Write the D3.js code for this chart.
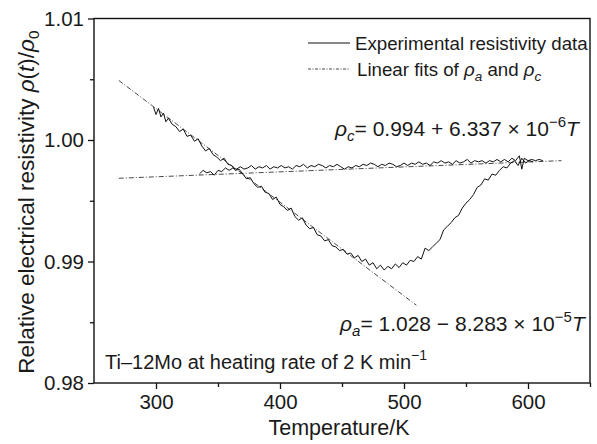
<!DOCTYPE html>
<html>
<head>
  <title>Relative electrical resistivity of Ti-12Mo</title>
  <script src="https://d3js.org/d3.v7.min.js"></script>
  <style>
    body { margin: 0; background: #fff; }
    text { font-family: "Liberation Sans", Arial, Helvetica, sans-serif; fill: #1a1a1a; }
  </style>
</head>
<body>

<div id="chart"></div>

<script>
// Heating branch: temperature (K) and relative resistivity
const heatT = [298, 300, 302, 304, 306, 308, 310, 313, 316, 319, 322, 325, 328, 331, 334, 337, 340, 343, 346, 349,
  352, 355, 358, 361, 364, 367, 370, 373, 376, 379, 382, 385, 388, 391, 394, 397, 400, 403, 406, 409,
  412, 415, 418, 421, 424, 427, 430, 433, 436, 439, 442, 445, 448, 451, 454, 457, 460, 463, 466, 469,
  472, 475, 478, 481, 484, 487, 490, 493, 496, 499, 502, 505, 508, 511, 514, 517, 520, 523, 526, 529,
  532, 535, 538, 541, 544, 547, 550, 553, 556, 559, 562, 565, 568, 571, 574, 577, 580, 583, 586, 589,
  592, 595, 598, 601, 604];
const heatRho = [1.0027, 1.0021, 1.0026, 1.0019, 1.0022, 1.0015, 1.0018, 1.0013, 1.0011, 1.0007, 1.0009, 1.0003, 1.0004, 0.9999, 1.0001, 0.9995, 0.9991, 0.9993, 0.9988, 0.9986,
  0.9983, 0.9985, 0.9980, 0.9979, 0.9975, 0.9976, 0.9972, 0.9968, 0.9969, 0.9964, 0.9961, 0.9962, 0.9957, 0.9956, 0.9951, 0.9953, 0.9947, 0.9945, 0.9942, 0.9944,
  0.9937, 0.9934, 0.9936, 0.9930, 0.9927, 0.9928, 0.9922, 0.9921, 0.9917, 0.9918, 0.9913, 0.9912, 0.9909, 0.9910, 0.9906, 0.9907, 0.9903, 0.9905, 0.9900, 0.9902,
  0.9897, 0.9899, 0.9894, 0.9897, 0.9893, 0.9896, 0.9894, 0.9898, 0.9895, 0.9899, 0.9897, 0.9901, 0.9900, 0.9904, 0.9902, 0.9911, 0.9909, 0.9912, 0.9915, 0.9918,
  0.9926, 0.9929, 0.9932, 0.9936, 0.9938, 0.9944, 0.9948, 0.9951, 0.9955, 0.9961, 0.9963, 0.9968, 0.9967, 0.9972, 0.9971, 0.9975, 0.9978, 0.9977, 0.9981, 0.9983,
  0.9979, 0.9985, 0.9981, 0.9983, 0.9982];

// Flat branch
const flatT = [335, 338, 341, 344, 347, 350, 353, 356, 359, 362, 365, 368, 371, 374, 377, 380, 383, 386, 389, 392,
  395, 398, 401, 404, 407, 410, 413, 416, 419, 422, 425, 428, 431, 434, 437, 440, 443, 446, 449, 452,
  455, 458, 461, 464, 467, 470, 473, 476, 479, 482, 485, 488, 491, 494, 497, 500, 503, 506, 509, 512,
  515, 518, 521, 524, 527, 530, 533, 536, 539, 542, 545, 548, 551, 554, 557, 560, 563, 566, 569, 572,
  575, 578, 581, 584, 587, 590, 593, 595, 597, 600, 603, 606, 609, 612];
const flatRho = [0.9972, 0.9975, 0.9973, 0.9974, 0.9971, 0.9975, 0.9974, 0.9977, 0.9975, 0.9977, 0.9976, 0.9978, 0.9976, 0.9977, 0.9979, 0.9976, 0.9978, 0.9977, 0.9979, 0.9976,
  0.9978, 0.9977, 0.9979, 0.9977, 0.9978, 0.9976, 0.9979, 0.9978, 0.9980, 0.9977, 0.9979, 0.9978, 0.9980, 0.9979, 0.9977, 0.9979, 0.9978, 0.9980, 0.9978, 0.9976,
  0.9978, 0.9977, 0.9979, 0.9978, 0.9980, 0.9979, 0.9981, 0.9980, 0.9978, 0.9980, 0.9979, 0.9981, 0.9980, 0.9978, 0.9979, 0.9981, 0.9979, 0.9981, 0.9980, 0.9982,
  0.9980, 0.9981, 0.9979, 0.9982, 0.9981, 0.9983, 0.9981, 0.9982, 0.9980, 0.9983, 0.9981, 0.9982, 0.9984, 0.9981, 0.9983, 0.9982, 0.9983, 0.9981, 0.9983, 0.9982,
  0.9984, 0.9982, 0.9984, 0.9982, 0.9985, 0.9983, 0.9987, 0.9976, 0.9985, 0.9983, 0.9984, 0.9983, 0.9984, 0.9983];

// Linear fits (end points)
const fitAT = [270, 510];
const fitARho = [1.0049, 0.9864];
const fitCT = [270, 627];
const fitCRho = [0.99685, 0.9983];

// Ticks
const xMajor = [300, 400, 500, 600];
const xMinor = [350, 450, 550, 650];
const yMajor = [0.98, 0.99, 1.00, 1.01];
const yMinor = [0.985, 0.995, 1.005];

const W = 597, H = 444;
const margin = { top: 18.5, right: 7, bottom: 61, left: 94 };
const width = W - margin.left - margin.right;
const height = H - margin.top - margin.bottom;

const svg = d3.select("#chart")
  .append("svg")
  .attr("width", W)
  .attr("height", H);

const g = svg.append("g")
  .attr("transform", `translate(${margin.left},${margin.top})`);

const x = d3.scaleLinear().domain([250, 650]).range([0, width]);
const y = d3.scaleLinear().domain([0.98, 1.01]).range([height, 0]);

// frame
g.append("rect")
  .attr("width", width)
  .attr("height", height)
  .attr("fill", "none")
  .attr("stroke", "#111")
  .attr("stroke-width", 1.4);

// axes
const styleAxis = sel => {
  sel.select(".domain").remove();
  sel.selectAll("line").attr("stroke", "#111").attr("stroke-width", 1.3);
  sel.selectAll("text").attr("font-size", 20.5).attr("fill", "#1a1a1a")
    .style("font-family", '"Liberation Sans", Arial, sans-serif');
};

g.append("g")
  .attr("transform", `translate(0,${height})`)
  .call(d3.axisBottom(x).tickValues(xMajor).tickSize(6).tickPadding(5).tickFormat(d3.format("d")))
  .call(styleAxis);
g.append("g")
  .attr("transform", `translate(0,${height})`)
  .call(d3.axisBottom(x).tickValues(xMinor).tickSize(4).tickFormat(""))
  .call(styleAxis);
g.append("g")
  .call(d3.axisLeft(y).tickValues(yMajor).tickSize(6).tickPadding(4).tickFormat(d3.format(".2f")))
  .call(styleAxis);
g.append("g")
  .call(d3.axisLeft(y).tickValues(yMinor).tickSize(4).tickFormat(""))
  .call(styleAxis);

// fit lines
const fitLine = d3.line().x(d => x(d[0])).y(d => y(d[1]));
[[fitAT, fitARho], [fitCT, fitCRho]].forEach(([ts, rs]) => {
  g.append("path")
    .datum(ts.map((t, i) => [t, rs[i]]))
    .attr("fill", "none")
    .attr("stroke", "#333")
    .attr("stroke-width", 0.9)
    .attr("stroke-dasharray", "5,2,1,2")
    .attr("d", fitLine);
});

// experimental data
[[heatT, heatRho], [flatT, flatRho]].forEach(([ts, rs]) => {
  g.append("path")
    .datum(ts.map((t, i) => [t, rs[i]]))
    .attr("fill", "none")
    .attr("stroke", "#111")
    .attr("stroke-width", 1)
    .attr("stroke-linejoin", "round")
    .attr("d", fitLine);
});

// legend
svg.append("line").attr("x1", 308).attr("x2", 350).attr("y1", 43).attr("y2", 43)
  .attr("stroke", "#111").attr("stroke-width", 1);
svg.append("text").attr("x", 355).attr("y", 50).attr("font-size", 18.7)
  .text("Experimental resistivity data");
svg.append("line").attr("x1", 308).attr("x2", 350).attr("y1", 69).attr("y2", 69)
  .attr("stroke", "#333").attr("stroke-width", 0.9).attr("stroke-dasharray", "3,1.5,1,1.5");
const leg2 = svg.append("text").attr("x", 357).attr("y", 76).attr("font-size", 18.7);
leg2.append("tspan").text("Linear fits of ");
leg2.append("tspan").attr("font-style", "italic").text("ρ");
leg2.append("tspan").attr("font-style", "italic").attr("font-size", 13.5).attr("dy", 5).text("a");
leg2.append("tspan").attr("dy", -5).text(" and ");
leg2.append("tspan").attr("font-style", "italic").text("ρ");
leg2.append("tspan").attr("font-style", "italic").attr("font-size", 13.5).attr("dy", 5).text("c");

// equations
function equation(xp, yp, sub, body, exp) {
  const t = svg.append("text").attr("x", xp).attr("y", yp).attr("font-size", 21);
  t.append("tspan").attr("font-style", "italic").text("ρ");
  t.append("tspan").attr("font-style", "italic").attr("font-size", 15).attr("dy", 5).text(sub);
  t.append("tspan").attr("dy", -5).text(body);
  t.append("tspan").attr("font-size", 15).attr("dy", -9).text(exp);
  t.append("tspan").attr("dy", 9).attr("font-style", "italic").text("T");
}
equation(335, 136, "c", "= 0.994 + 6.337 × 10", "−6");
equation(340, 331, "a", "= 1.028 − 8.283 × 10", "−5");

// sample label
const lab = svg.append("text").attr("x", 105).attr("y", 369).attr("font-size", 20);
lab.append("tspan").text("Ti–12Mo at heating rate of 2 K min");
lab.append("tspan").attr("font-size", 14).attr("dy", -9).text("−1");

// axis titles
svg.append("text")
  .attr("x", margin.left + width / 2 - 3)
  .attr("y", 435)
  .attr("text-anchor", "middle")
  .attr("font-size", 21.5)
  .text("Temperature/K");

const yt = svg.append("text")
  .attr("transform", "translate(34,202) rotate(-90)")
  .attr("text-anchor", "middle")
  .attr("font-size", 22.5);
yt.append("tspan").text("Relative electrical resistivity ");
yt.append("tspan").attr("font-style", "italic").text("ρ");
yt.append("tspan").text("(");
yt.append("tspan").attr("font-style", "italic").text("t");
yt.append("tspan").text(")/");
yt.append("tspan").attr("font-style", "italic").text("ρ");
yt.append("tspan").attr("font-size", 15.5).attr("dy", 5).text("0");
</script>

</body>
</html>
